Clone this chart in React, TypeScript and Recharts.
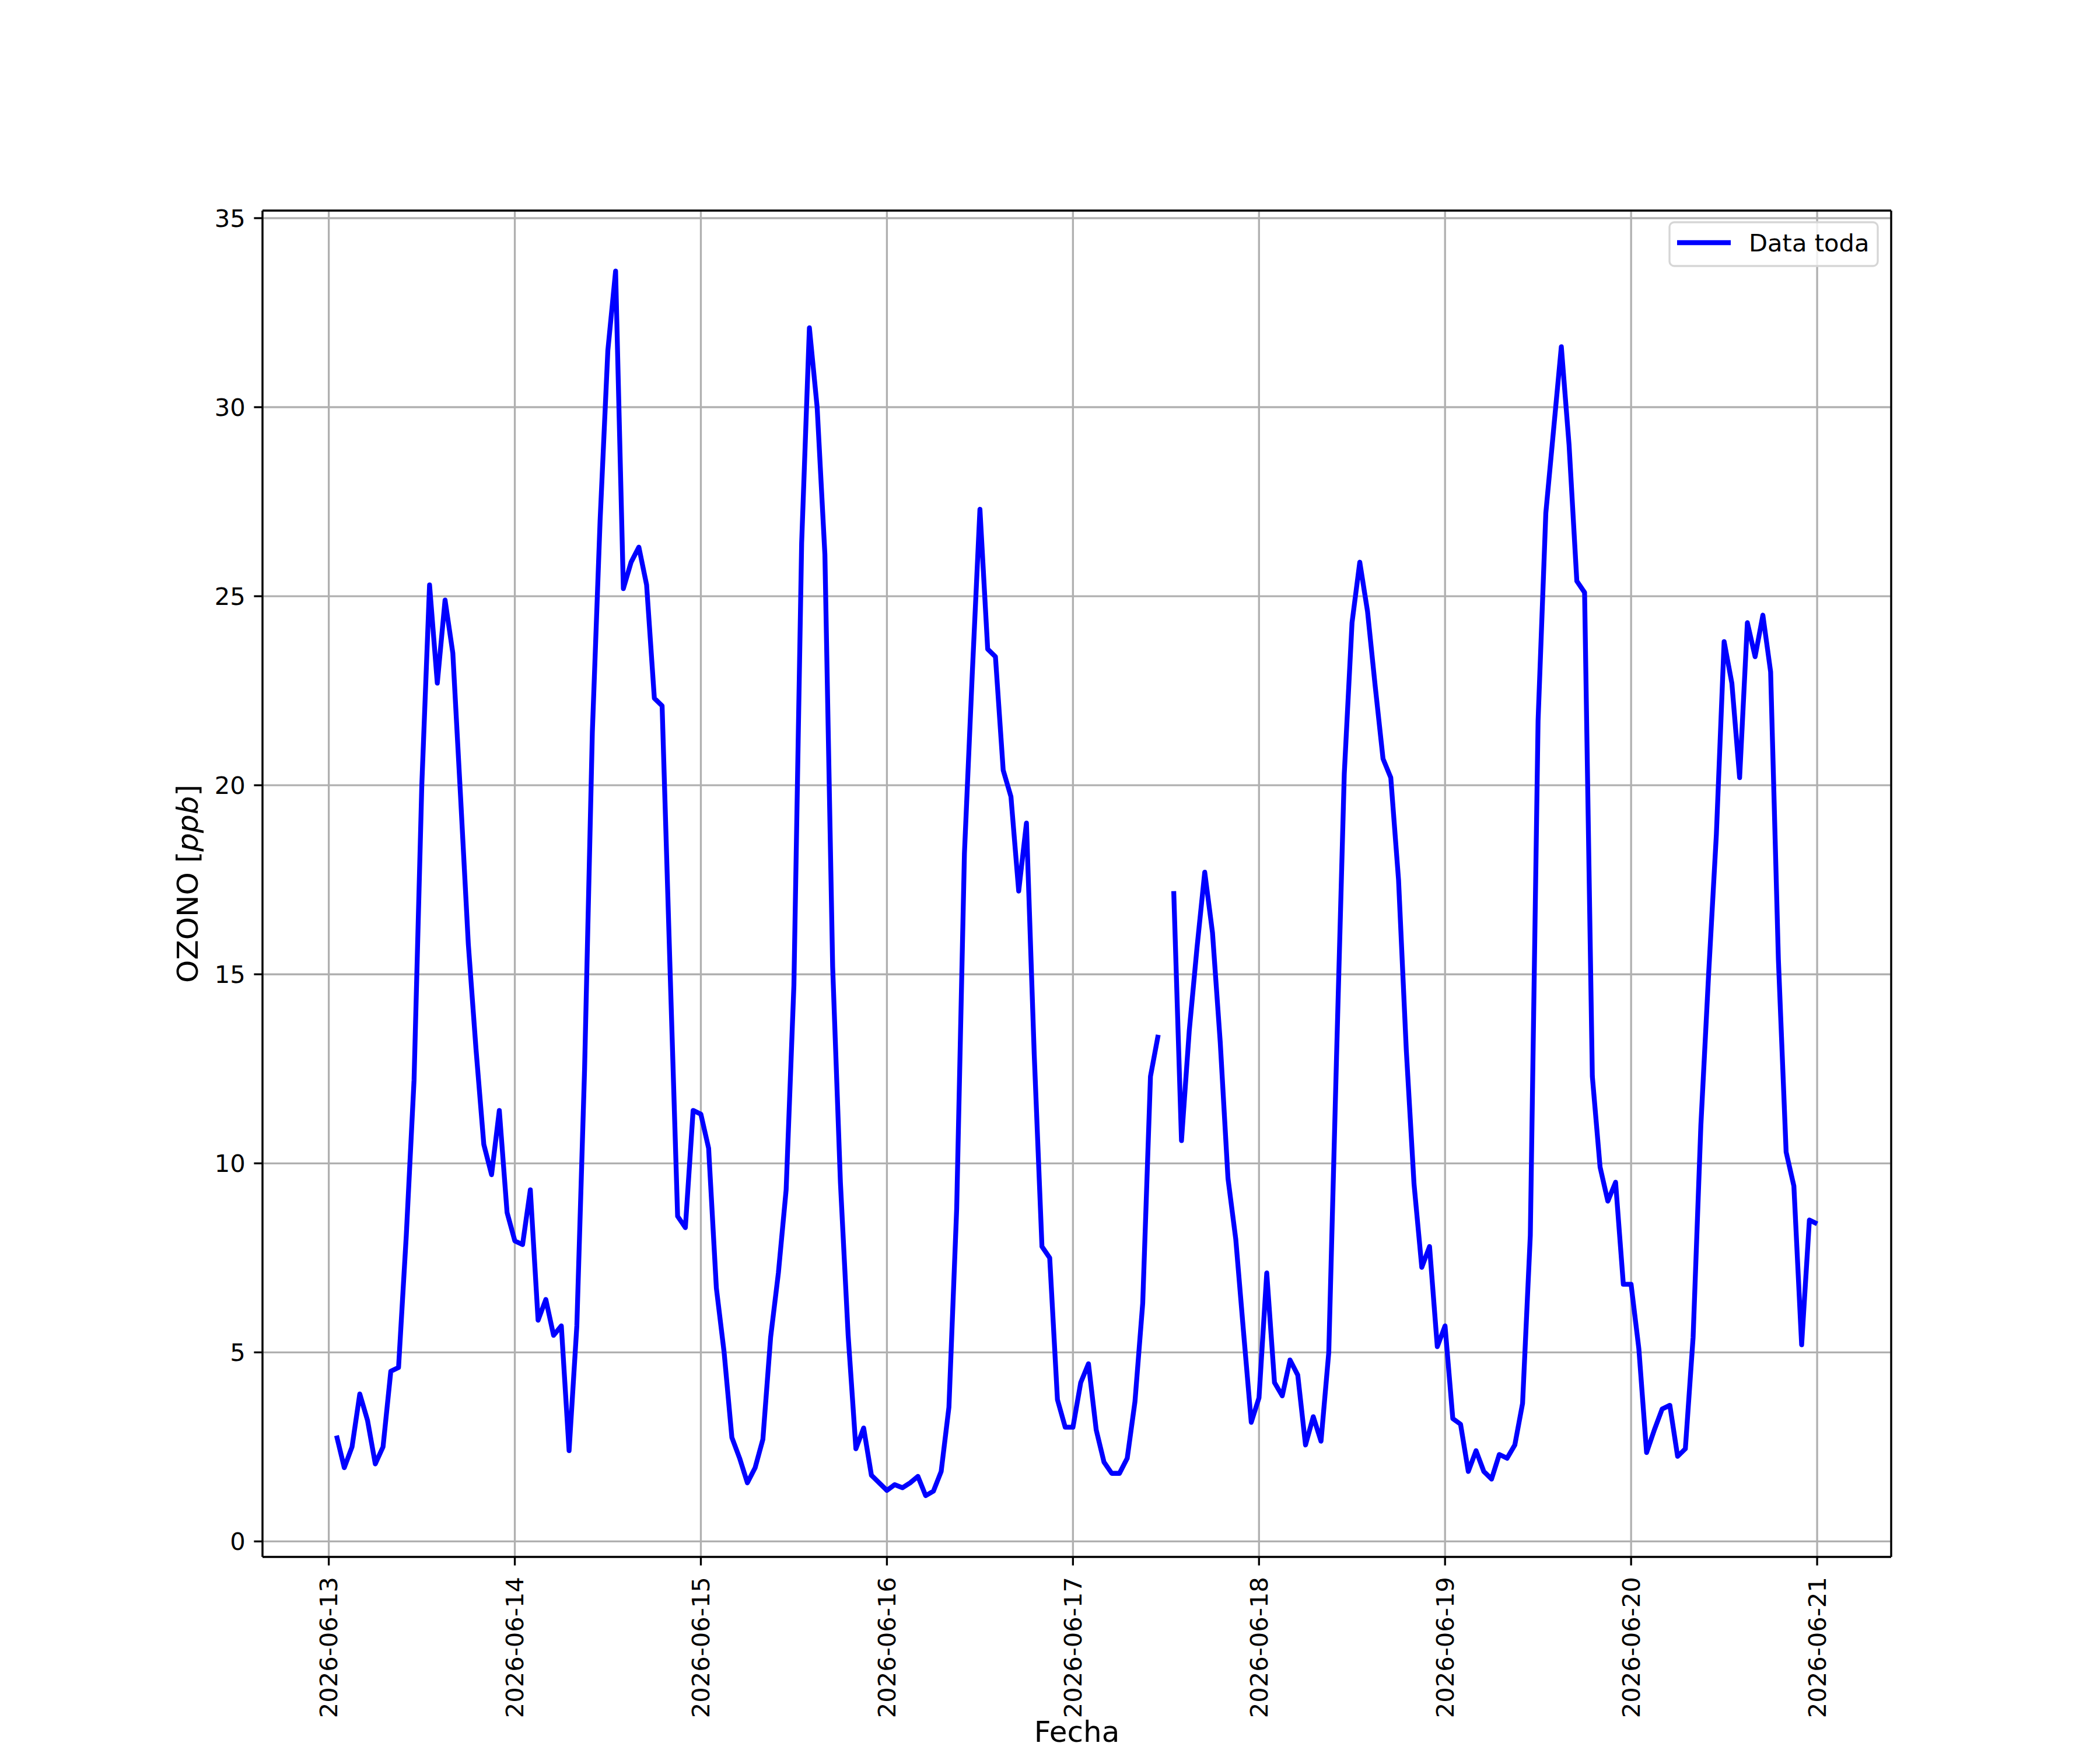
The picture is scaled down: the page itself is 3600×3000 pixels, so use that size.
import React from "react";
import {
  CartesianGrid,
  Line,
  LineChart,
  ReferenceLine,
  XAxis,
  YAxis,
} from "recharts";

// Hourly ozone readings (ppb). June 13 starts at 01:00, June 21 only has 00:00.
const june13 = [
  2.8, 1.95, 2.5, 3.9, 3.2, 2.05, 2.5, 4.5, 4.6, 8.1, 12.2, 20.0, 25.3, 22.7,
  24.9, 23.5, 19.7, 15.8, 13.0, 10.5, 9.7, 11.4, 8.7,
];
const june14 = [
  7.95, 7.85, 9.3, 5.85, 6.4, 5.45, 5.7, 2.4, 5.7, 12.5, 21.4, 27.0, 31.5, 33.6,
  25.2, 25.9, 26.3, 25.3, 22.3, 22.1, 15.3, 8.6, 8.3, 11.4,
];
const june15 = [
  11.3, 10.4, 6.7, 5.0, 2.75, 2.2, 1.55, 1.95, 2.7, 5.4, 7.1, 9.3, 14.7, 26.4,
  32.1, 30.0, 26.1, 15.2, 9.5, 5.45, 2.45, 3.0, 1.75, 1.55,
];
const june16 = [
  1.35, 1.5, 1.42, 1.55, 1.72, 1.21, 1.33, 1.85, 3.55, 8.8, 18.2, 22.9, 27.3,
  23.6, 23.4, 20.4, 19.7, 17.2, 19.0, 12.9, 7.8, 7.5, 3.75, 3.02,
];
const june17 = [
  3.02, 4.2, 4.7, 2.95, 2.1, 1.8, 1.8, 2.2, 3.7, 6.3, 12.3, 13.4, null, 17.2,
  10.6, 13.5, 15.7, 17.7, 16.1, 13.2, 9.6, 8.0, 5.55, 3.15,
];
const june18 = [
  3.8, 7.1, 4.2, 3.85, 4.8, 4.4, 2.55, 3.3, 2.65, 5.0, 12.8, 20.3, 24.3, 25.9,
  24.6, 22.6, 20.7, 20.2, 17.5, 13.0, 9.45, 7.25, 7.8, 5.15,
];
const june19 = [
  5.7, 3.25, 3.1, 1.85, 2.4, 1.85, 1.65, 2.3, 2.2, 2.55, 3.65, 8.1, 21.7, 27.2,
  29.4, 31.6, 29.0, 25.4, 25.1, 12.3, 9.9, 9.0, 9.5, 6.8,
];
const june20 = [
  6.8, 5.1, 2.35, 2.95, 3.5, 3.6, 2.25, 2.45, 5.4, 11.0, 15.0, 18.7, 23.8, 22.7,
  20.2, 24.3, 23.4, 24.5, 23.0, 15.4, 10.3, 9.4, 5.2, 8.5,
];
const june21 = [8.4];

const dayLabels = [
  "2026-06-13",
  "2026-06-14",
  "2026-06-15",
  "2026-06-16",
  "2026-06-17",
  "2026-06-18",
  "2026-06-19",
  "2026-06-20",
  "2026-06-21",
];
const yTicks = [0, 5, 10, 15, 20, 25, 30, 35];

// x is hours since 2026-06-13 00:00
const days = [june13, june14, june15, june16, june17, june18, june19, june20, june21];
const data: { t: number; v: number | null }[] = [];
days.forEach((vals, d) => {
  const firstHour = d === 0 ? 1 : 0;
  vals.forEach((v, i) => data.push({ t: d * 24 + firstHour + i, v }));
});
const xTicks = dayLabels.map((_, i) => i * 24);

const FONT = "DejaVu Sans";
const FS = 41.67; // 10pt @ 300dpi
const FS_LABEL = 50; // 12pt axis titles
const LW = 3.33;
const X_DOMAIN: [number, number] = [-8.55, 201.55];
const Y_DOMAIN: [number, number] = [-0.41, 35.2];

const XTick = ({ x, y, payload }: any) => {
  const idx = xTicks.indexOf(payload.value);
  const yy = y + 5;
  return (
    <text
      x={x}
      y={yy}
      transform={`rotate(-90 ${x} ${yy})`}
      textAnchor="end"
      dominantBaseline="central"
      fontFamily={FONT}
      fontSize={FS}
      fill="#000"
    >
      {dayLabels[idx]}
    </text>
  );
};

export default function App() {
  return (
    <div
      style={{
        position: "absolute",
        left: 0,
        top: 0,
        width: 3600,
        height: 3000,
        background: "#fff",
      }}
    >
      <LineChart
        width={3600}
        height={3000}
        data={data}
        margin={{ top: 361, right: 358, bottom: 11, left: 150 }}
      >
        <CartesianGrid stroke="#b0b0b0" strokeWidth={LW} />
        <XAxis
          type="number"
          dataKey="t"
          domain={X_DOMAIN}
          ticks={xTicks}
          allowDataOverflow
          height={320}
          tickSize={14.6}
          tickMargin={14.6}
          tick={<XTick />}
          axisLine={{ stroke: "#000", strokeWidth: LW }}
          tickLine={{ stroke: "#000", strokeWidth: LW }}
        />
        <YAxis
          type="number"
          domain={Y_DOMAIN}
          ticks={yTicks}
          allowDataOverflow
          width={300}
          tickSize={14.6}
          tickMargin={14.6}
          tick={{ fontFamily: FONT, fontSize: FS, fill: "#000" }}
          axisLine={{ stroke: "#000", strokeWidth: LW }}
          tickLine={{ stroke: "#000", strokeWidth: LW }}
        />
        <Line
          type="linear"
          dataKey="v"
          stroke="#0000ff"
          strokeWidth={8.3}
          strokeLinejoin="round"
          dot={false}
          activeDot={false}
          connectNulls={false}
          isAnimationActive={false}
        />
        <ReferenceLine y={Y_DOMAIN[1]} stroke="#000" strokeWidth={LW} ifOverflow="visible" />
        <ReferenceLine x={X_DOMAIN[1]} stroke="#000" strokeWidth={LW} ifOverflow="visible" />
      </LineChart>

      {/* titles and legend, matplotlib style */}
      <svg
        width={3600}
        height={3000}
        style={{ position: "absolute", left: 0, top: 0, pointerEvents: "none" }}
      >
        <text
          x={1846}
          y={2986}
          textAnchor="middle"
          fontFamily={FONT}
          fontSize={FS_LABEL}
          fill="#000"
        >
          Fecha
        </text>
        <text
          x={339}
          y={1515}
          transform="rotate(-90 339 1515)"
          textAnchor="middle"
          fontFamily={FONT}
          fontSize={FS_LABEL}
          fill="#000"
        >
          OZONO [<tspan fontStyle="italic">ppb</tspan>]
        </text>
        <rect
          x={2862}
          y={381}
          width={357}
          height={75}
          rx={8}
          fill="rgba(255,255,255,0.8)"
          stroke="#d6d6d6"
          strokeWidth={LW}
        />
        <line x1={2875} y1={416} x2={2967} y2={416} stroke="#0000ff" strokeWidth={8.3} />
        <text x={2998} y={431} fontFamily={FONT} fontSize={FS} fill="#000">
          Data toda
        </text>
      </svg>
    </div>
  );
}
